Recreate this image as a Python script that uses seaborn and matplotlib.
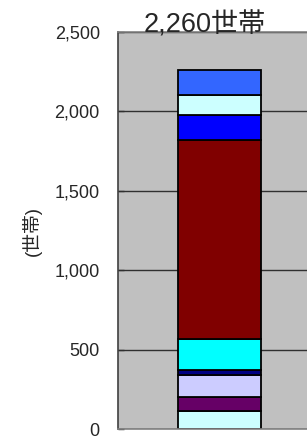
import numpy as np
import pandas as pd
import seaborn as sns
import matplotlib.pyplot as plt

# Stacked household counts (bottom to top)
segments = ['s1', 's2', 's3', 's4', 's5', 's6', 's7', 's8', 's9']
values = [118, 88, 137, 28, 199, 1252, 153, 126, 159]
colors = ['#CCFFFF', '#660066', '#CCCCFF', '#000080', '#00FFFF',
          '#800000', '#0000FF', '#CCFFFF', '#3366FF']
total_label = '2,260世帯'
y_ticks = [0, 500, 1000, 1500, 2000, 2500]
y_ticklabels = ['0', '500', '1,000', '1,500', '2,000', '2,500']

sns.set_style('white')
plt.rcParams['font.family'] = ['Liberation Sans', 'Noto Sans CJK JP']

fig = plt.figure(figsize=(3.07, 4.37), dpi=100)
ax = fig.add_axes([0.384, 0.0172, 0.616, 0.9096])
ax.set_facecolor('#C0C0C0')

df = pd.DataFrame({'seg': segments, 'value': values, 'color': colors})
df['bottom'] = df['value'].cumsum() - df['value']
df['grp'] = ''

for _, row in df.iterrows():
    sns.barplot(x=[row['grp']], y=[row['value']], bottom=row['bottom'],
                color=row['color'], saturation=1, width=0.6,
                edgecolor='black', linewidth=1.3, ax=ax)

ax.set_xlim(-0.734, 0.633)
ax.set_ylim(0, 2500)
ax.set_yticks(y_ticks)
ax.set_yticklabels(y_ticklabels, fontsize=13)
ax.set_xticks([])
ax.set_xlabel('')
ax.yaxis.grid(True, color='#303030', linewidth=1)
ax.set_axisbelow(True)
ax.tick_params(axis='y', direction='in', length=4, width=1, color='#303030',
               pad=13, left=True)

ax.spines['left'].set_color('#404040')
ax.spines['top'].set_color('#808080')
ax.spines['bottom'].set_color('#808080')
ax.spines['right'].set_visible(False)
for s in ['left', 'top', 'bottom']:
    ax.spines[s].set_linewidth(1.2)

ax.set_ylabel('(世帯)', fontsize=13.5)
ax.yaxis.set_label_coords(-0.40, 0.5)

fig.text(0.668, 1 - 32 / 437, total_label, ha='center', va='baseline',
         fontsize=19.5)

fig.savefig('out.png', dpi=100)
